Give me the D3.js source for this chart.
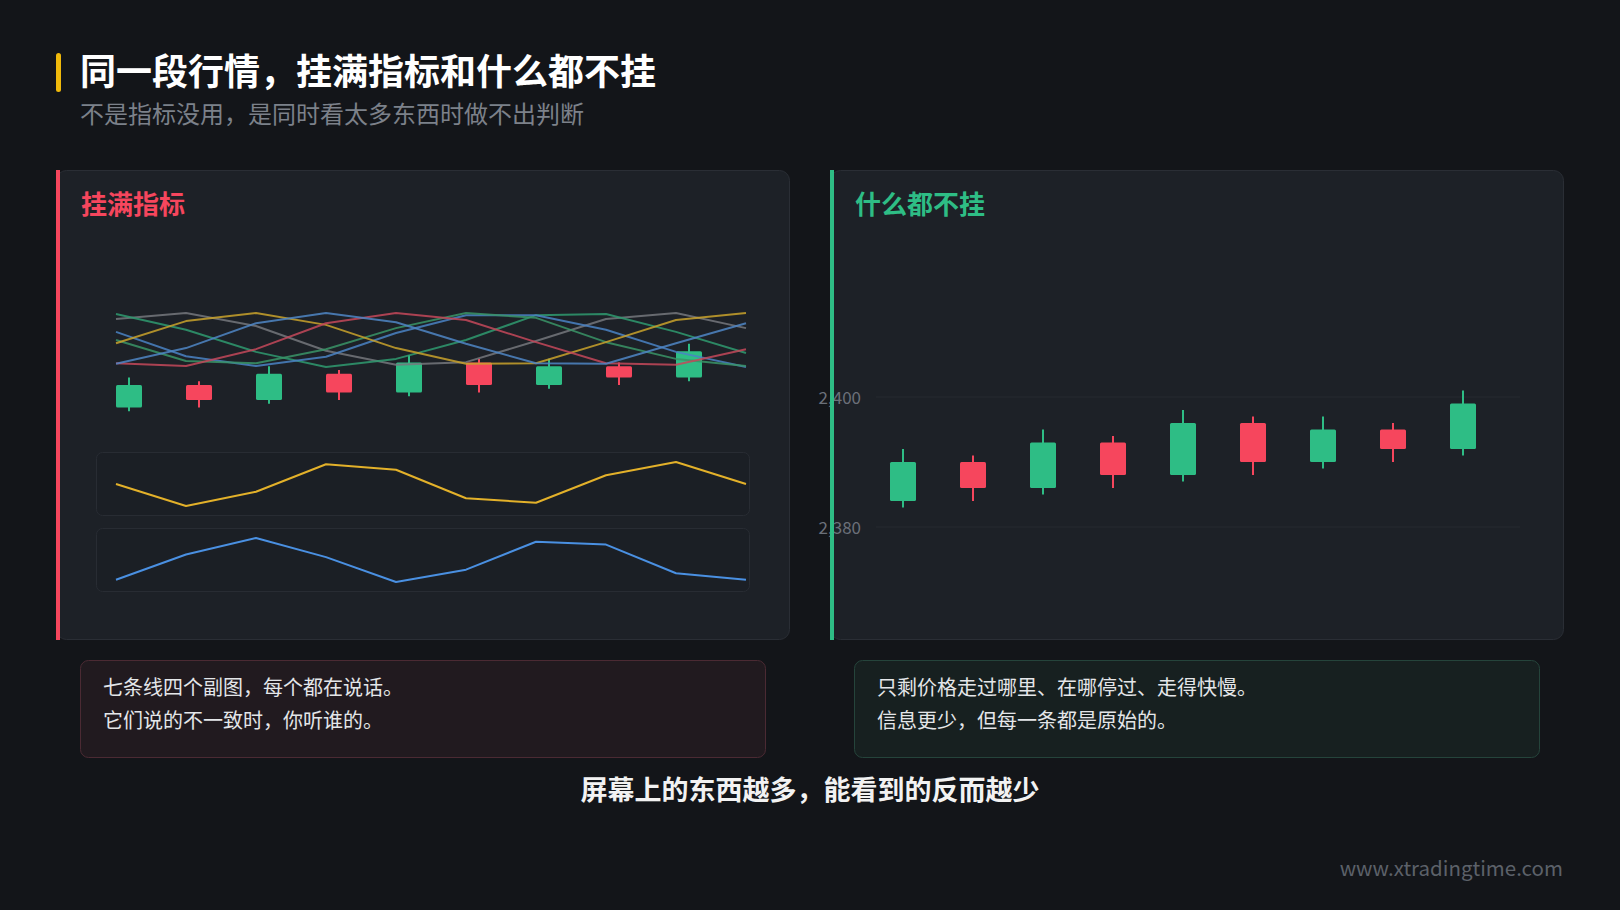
<!DOCTYPE html>
<html><head><meta charset="utf-8">
<script src="https://cdn.jsdelivr.net/npm/d3@7"></script>
<style>
html,body{margin:0;padding:0;background:#131519;}
svg{display:block;}
text{font-family:"Noto Sans CJK SC","Noto Sans",sans-serif;}
</style></head>
<body>
<svg id="c" width="1620" height="910"></svg>
<script>
// ---------- DATA ----------
const titleText = "同一段行情，挂满指标和什么都不挂";
const subtitleText = "不是指标没用，是同时看太多东西时做不出判断";
const leftTitle = "挂满指标";
const rightTitle = "什么都不挂";
const leftNotes = ["七条线四个副图，每个都在说话。", "它们说的不一致时，你听谁的。"];
const rightNotes = ["只剩价格走过哪里、在哪停过、走得快慢。", "信息更少，但每一条都是原始的。"];
const summaryText = "屏幕上的东西越多，能看到的反而越少";
const footerText = "www.xtradingtime.com";

const opens  = [2384, 2390, 2386, 2393, 2388, 2396, 2390, 2395, 2392];
const highs  = [2392, 2391, 2395, 2394, 2398, 2397, 2397, 2396, 2401];
const lows   = [2383, 2384, 2385, 2386, 2387, 2388, 2389, 2390, 2391];
const closes = [2390, 2386, 2393, 2388, 2396, 2390, 2395, 2392, 2399];

const priceTicks = [2380, 2400];

// seven overlay indicator lines (normalised 0-100), 10 points each
const lineYellow = [44, 85, 100, 78, 35, 6, 7, 46, 87, 100];
const lineGray   = [89, 100, 76, 30, 4, 9, 48, 89, 100, 72];
const lineRed    = [7, 2, 33, 81, 100, 87, 46, 7, 4, 33];
const lineBlueA  = [65, 20, 2, 19, 63, 96, 96, 69, 28, 0];
const lineBlueB  = [6, 35, 81, 100, 83, 43, 7, 6, 44, 81];
const lineGreenA = [98, 69, 28, 0, 15, 50, 96, 98, 65, 26];
const lineGreenB = [50, 11, 7, 33, 72, 100, 91, 46, 15, 2];

// sub-chart oscillators
const oscYellow = [50, 30, 43, 68, 63, 37, 33, 58, 70, 50];
const oscBlue   = [-0.9, 0.25, 1.0, 0.13, -1.0, -0.44, 0.83, 0.7, -0.6, -0.9];

// ---------- STYLE ----------
const UP = "#2ebd85", DOWN = "#f6465d";

const candles = opens.map((o, i) => ({i, o, h: highs[i], l: lows[i], c: closes[i]}));
const svg = d3.select("#c");

// background
svg.append("rect").attr("width", 1620).attr("height", 910).attr("fill", "#131519");

// header
svg.append("rect").attr("x", 56).attr("y", 53).attr("width", 5).attr("height", 39).attr("rx", 2.5).attr("fill", "#f0b90b");
svg.append("text").attr("x", 80).attr("y", 69).attr("dominant-baseline", "central")
  .attr("font-size", 36).attr("font-weight", 700).attr("fill", "#ffffff").text(titleText);
svg.append("text").attr("x", 80).attr("y", 112).attr("dominant-baseline", "central")
  .attr("font-size", 24).attr("fill", "#7c818a").text(subtitleText);

// panels
function panel(x, accent, title) {
  svg.append("rect").attr("x", x + 0.5).attr("y", 170.5).attr("width", 733).attr("height", 469)
    .attr("rx", 10).attr("fill", "#1d2127").attr("stroke", "#2a2e35");
  svg.append("rect").attr("x", x).attr("y", 170).attr("width", 4).attr("height", 470).attr("fill", accent);
  svg.append("text").attr("x", x + 25).attr("y", 202).attr("dominant-baseline", "central")
    .attr("font-size", 26).attr("font-weight", 700).attr("fill", accent).text(title);
}
panel(56, DOWN, leftTitle);
panel(830, UP, rightTitle);

// ---------- LEFT PANEL ----------
const xL = d3.scalePoint().domain(d3.range(10)).range([116, 746]);
const yL = d3.scaleLinear().domain([2380, 2400]).range([422.5, 347.5]);
const yOver = d3.scaleLinear().domain([0, 100]).range([367, 313]);
const bodyW = 26;

const overlay = [
  {d: lineGray, c: "#74777d"},
  {d: lineGreenA, c: "#2f9a70"},
  {d: lineBlueA, c: "#4a82c4"},
  {d: lineGreenB, c: "#3a9467"},
  {d: lineYellow, c: "#c9a22c"},
  {d: lineRed, c: "#c4485b"},
  {d: lineBlueB, c: "#4f86c6"}
];
const lineGen = d3.line().x((d, i) => xL(i)).y(d => yOver(d));
const gL = svg.append("g");

function drawCandles(g, xc, y) {
  const cg = g.selectAll("g.cd").data(candles).join("g").attr("class", "cd");
  cg.append("line")
    .attr("x1", d => xc(d.i)).attr("x2", d => xc(d.i))
    .attr("y1", d => y(d.h)).attr("y2", d => y(d.l))
    .attr("stroke", d => d.c >= d.o ? UP : DOWN).attr("stroke-width", 2);
  cg.append("rect")
    .attr("x", d => xc(d.i) - bodyW / 2).attr("width", bodyW)
    .attr("y", d => y(Math.max(d.o, d.c)))
    .attr("height", d => Math.abs(y(d.o) - y(d.c)))
    .attr("rx", 1.5)
    .attr("fill", d => d.c >= d.o ? UP : DOWN);
}
drawCandles(gL, i => xL(i) + bodyW / 2, yL);

gL.selectAll("path.ov").data(overlay).join("path").attr("class", "ov")
  .attr("d", d => lineGen(d.d)).attr("fill", "none")
  .attr("stroke", d => d.c).attr("stroke-width", 2).attr("stroke-opacity", 0.85)
  .attr("stroke-linejoin", "round");

// sub charts
function subChart(top, data, color) {
  svg.append("rect").attr("x", 96.5).attr("y", top + 0.5).attr("width", 653).attr("height", 63)
    .attr("rx", 6).attr("fill", "#1b1f25").attr("stroke", "#282c33");
  const y = d3.scaleLinear().domain(d3.extent(data)).range([top + 54, top + 10]);
  svg.append("path").datum(data)
    .attr("d", d3.line().x((d, i) => xL(i)).y(d => y(d)))
    .attr("fill", "none").attr("stroke", color).attr("stroke-width", 2).attr("stroke-linejoin", "round");
}
subChart(452, oscYellow, "#e3b12a");
subChart(528, oscBlue, "#4a90e2");

// ---------- RIGHT PANEL ----------
const xR = d3.scalePoint().domain(d3.range(9)).range([903, 1463]);
const yR = d3.scaleLinear().domain([2380, 2400]).range([527, 397]);
const gR = svg.append("g");
gR.selectAll("line.grid").data(priceTicks).join("line").attr("class", "grid")
  .attr("x1", 876).attr("x2", 1520).attr("y1", d => yR(d)).attr("y2", d => yR(d))
  .attr("stroke", "#262b30").attr("stroke-width", 1);
gR.selectAll("text.tick").data(priceTicks).join("text").attr("class", "tick")
  .attr("x", 861).attr("y", d => yR(d) - 1).attr("text-anchor", "end").attr("dominant-baseline", "central")
  .attr("font-family", '"Noto Sans",sans-serif')
  .attr("font-size", 17).attr("fill", "#6b7079").text(d => d3.format(",")(d));
// accent bar overlaps labels as in reference
svg.append("rect").attr("x", 830).attr("y", 170).attr("width", 4).attr("height", 470).attr("fill", UP);
drawCandles(gR, xR, yR);

// ---------- NOTES ----------
function noteBox(x, fill, stroke, lines) {
  svg.append("rect").attr("x", x + 0.5).attr("y", 660.5).attr("width", 685).attr("height", 97)
    .attr("rx", 8).attr("fill", fill).attr("stroke", stroke);
  svg.append("g").selectAll("text").data(lines).join("text")
    .attr("x", x + 23).attr("y", (d, i) => 686 + i * 33).attr("dominant-baseline", "central")
    .attr("font-size", 20).attr("fill", "#e4e6e9").text(d => d);
}
noteBox(80, "#211a1f", "#4b2a33", leftNotes);
noteBox(854, "#172020", "#25443b", rightNotes);

svg.append("text").attr("x", 810).attr("y", 788).attr("text-anchor", "middle").attr("dominant-baseline", "central")
  .attr("font-size", 27).attr("font-weight", 700).attr("fill", "#f2f2f2").text(summaryText);

svg.append("text").attr("x", 1563).attr("y", 867).attr("text-anchor", "end").attr("dominant-baseline", "central")
  .attr("font-family", '"Noto Sans",sans-serif').attr("font-size", 20.5).attr("fill", "#5c6169").text(footerText);
</script>
</body></html>
